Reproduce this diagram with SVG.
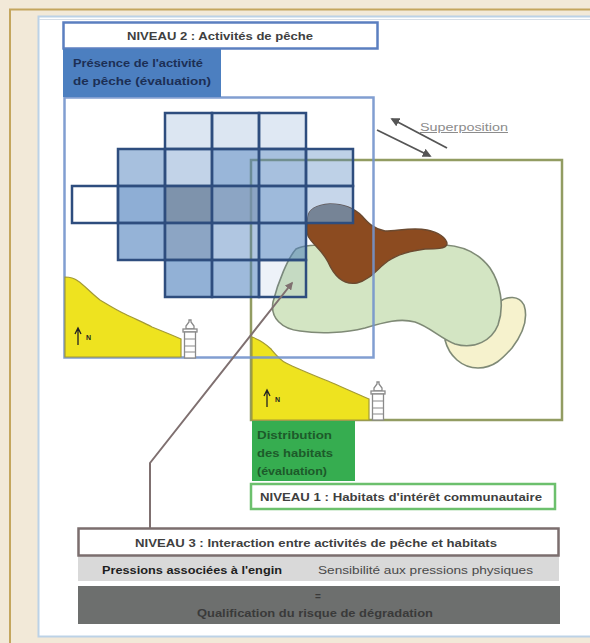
<svg xmlns="http://www.w3.org/2000/svg" width="590" height="643" viewBox="0 0 590 643">
  <defs>
    <style>
      .t { font-family: "Liberation Sans", Arial, sans-serif; font-weight: bold; font-size: 10px; fill: #3f3f3f; }
      .hdr { fill: #ffffff; stroke-width: 2.5; }
      .cell { fill: #4f81bd; stroke: #2e4d7e; stroke-width: 2.5; }
      .coast { fill: #eee31f; stroke: #a39a36; stroke-width: 1.2; }
      .blob { stroke: #7f8a76; stroke-width: 1.6; }
      .lh { fill: #ffffff; stroke: #8a8a8a; stroke-width: 1.3; }
    </style>
    <marker id="headGray" viewBox="0 0 10 10" refX="8" refY="5" markerWidth="4" markerHeight="4" orient="auto" markerUnits="strokeWidth">
      <path d="M0,0 L10,5 L0,10 Z" fill="#7f7070"/>
    </marker>
    <marker id="headDark" viewBox="0 0 10 10" refX="8" refY="5" markerWidth="5" markerHeight="5" orient="auto" markerUnits="strokeWidth">
      <path d="M0,0 L10,5 L0,10 Z" fill="#555555"/>
    </marker>
    <!-- brown habitat outline, reused for the part seen through the grid -->
    <path id="brownShape" d="M308,217 C309,208 318,205 330,204 C342,204 354,208 362,216 C368,223 374,229 385,231 C398,231 412,227 427,230 C438,232 447,238 447,244 C446,249 435,249 425,249 C410,251 398,254 388,261 C378,268 370,280 357,283 C345,285 335,278 328,262 C322,250 312,244 308,236 C306,230 307,223 308,217 Z"/>
    <clipPath id="cellClip">
      <rect x="306" y="186" width="47" height="37"/>
    </clipPath>
    <!-- small lighthouse, origin at base centre -->
    <g id="lighthouse">
      <path class="lh" d="M-1,-38 L1,-38 L1,-36 L4,-32 L4,-29 L-4,-29 L-4,-32 L-1,-36 Z"/>
      <rect class="lh" x="-7" y="-29" width="14" height="3"/>
      <rect class="lh" x="-5.5" y="-26" width="11" height="26"/>
      <path d="M-5.5,-19 H5.5 M-5.5,-12 H5.5 M-5.5,-6 H5.5" stroke="#8a8a8a" stroke-width="1.2"/>
    </g>
    <!-- north arrow -->
    <g id="north">
      <path d="M0,0 V-16 M-3,-11 L0,-17 L3,-11" fill="none" stroke="#222" stroke-width="1.3"/>
      <text x="8" y="-5" font-family="Liberation Sans, Arial, sans-serif" font-weight="bold" font-size="7" fill="#222">N</text>
    </g>
  </defs>

  <!-- page -->
  <rect x="0" y="0" width="590" height="643" fill="#f2e9d8"/>
  <path d="M10,643 V9.5 H590" fill="none" stroke="#c4a65e" stroke-width="2"/>
  <rect x="38.5" y="16.5" width="560" height="620" fill="#ffffff" stroke="#bcd2e6" stroke-width="2"/>
  <line x1="39" y1="19.5" x2="590" y2="19.5" stroke="#d6dde6" stroke-width="1"/>

  <!-- level 1: habitat map -->
  <g id="niveau1-map">
    <rect x="251" y="160" width="311" height="260" fill="#ffffff" stroke="#929c62" stroke-width="2.5"/>
    <path class="blob" fill="#f6f2cd" d="M445,340 C449,356 462,368 478,368 C494,368 503,358 512,348 C521,336 529,320 524,305 C519,295 507,296 499,302 L470,330 Z"/>
    <path class="blob" fill="#d3e5c3" d="M296,249 C288,258 278,282 273,302 C270,318 282,329 300,331 C320,334 345,333 365,328 C385,322 400,318 415,322 C430,327 440,338 455,344 C475,350 492,340 498,325 C505,305 500,283 490,268 C478,252 462,246 445,245 L330,245 C315,245 304,245 296,249 Z"/>
    <use href="#brownShape" fill="#8c4b20" stroke="#6b4a30" stroke-width="1.4"/>
    <use href="#brownShape" fill="#8a8683" clip-path="url(#cellClip)"/>
    <path class="coast" d="M252,337 C260,340 266,344 271,349 C276,355 280,360 286,363 C300,370 318,377 335,384 C348,390 360,395 369,399 L369,420 L252,420 Z"/>
    <use href="#north" x="267" y="407"/>
    <use href="#lighthouse" x="378" y="420"/>
  </g>

  <!-- level 2: fishing activity map -->
  <g id="niveau2-map">
    <rect x="64.5" y="97.5" width="309" height="260" fill="none" stroke="#7394cc" stroke-width="2.5" stroke-opacity="0.9"/>
    <!-- row 0 -->
    <rect class="cell" x="165" y="113" width="47" height="36" fill-opacity="0.2"/>
    <rect class="cell" x="212" y="113" width="47" height="36" fill-opacity="0.2"/>
    <rect class="cell" x="259" y="113" width="47" height="36" fill-opacity="0.18"/>
    <!-- row 1 -->
    <rect class="cell" x="118" y="149" width="47" height="37" fill-opacity="0.5"/>
    <rect class="cell" x="165" y="149" width="47" height="37" fill-opacity="0.35"/>
    <rect class="cell" x="212" y="149" width="47" height="37" fill-opacity="0.58"/>
    <rect class="cell" x="259" y="149" width="47" height="37" fill-opacity="0.5"/>
    <rect class="cell" x="306" y="149" width="47" height="37" fill-opacity="0.37"/>
    <!-- row 2 -->
    <rect class="cell" x="72" y="186" width="46" height="37" fill-opacity="0"/>
    <rect class="cell" x="118" y="186" width="47" height="37" fill-opacity="0.64"/>
    <rect class="cell" x="165" y="186" width="47" height="37" style="fill:#5e7897" fill-opacity="0.8"/>
    <rect class="cell" x="212" y="186" width="47" height="37" style="fill:#6f8fb5" fill-opacity="0.8"/>
    <rect class="cell" x="259" y="186" width="47" height="37" fill-opacity="0.55"/>
    <rect class="cell" x="306" y="186" width="47" height="37" fill-opacity="0.32"/>
    <!-- row 3 -->
    <rect class="cell" x="118" y="223" width="47" height="37" fill-opacity="0.6"/>
    <rect class="cell" x="165" y="223" width="47" height="37" style="fill:#6f8fb5" fill-opacity="0.8"/>
    <rect class="cell" x="212" y="223" width="47" height="37" fill-opacity="0.45"/>
    <rect class="cell" x="259" y="223" width="47" height="37" fill-opacity="0.55"/>
    <!-- row 4 -->
    <rect class="cell" x="165" y="260" width="47" height="37" fill-opacity="0.62"/>
    <rect class="cell" x="212" y="260" width="47" height="37" fill-opacity="0.55"/>
    <rect class="cell" x="259" y="260" width="47" height="37" fill-opacity="0.1"/>
    <path class="coast" d="M65,277 C70,277 74,278 78,281 C84,285 90,292 100,300 C110,306 118,311 125,314 C135,319 145,323 152,327 C162,331 172,335 181,339 L181,357 L65,357 Z"/>
    <use href="#north" x="78" y="345"/>
    <use href="#lighthouse" x="190" y="358"/>
  </g>

  <!-- level 2 labels -->
  <g id="niveau2-header">
    <rect class="hdr" x="63.5" y="22.5" width="314" height="26" stroke="#5b7fc0"/>
    <text class="t" x="127" y="39.5" textLength="186" lengthAdjust="spacingAndGlyphs">NIVEAU 2 : Activités de pêche</text>
  </g>
  <g id="niveau2-label">
    <rect x="63" y="49" width="158" height="48" fill="#4c7fc0"/>
    <text class="t" x="73" y="67" style="fill:#1c2f55" textLength="130" lengthAdjust="spacingAndGlyphs">Présence de l'activité</text>
    <text class="t" x="73" y="85" style="fill:#1c2f55" textLength="138" lengthAdjust="spacingAndGlyphs">de pêche (évaluation)</text>
  </g>

  <!-- level 1 labels -->
  <g id="niveau1-label">
    <rect x="252" y="421" width="103" height="60" fill="#36ad50"/>
    <text class="t" x="257" y="439" style="fill:#1d5a2a" textLength="75" lengthAdjust="spacingAndGlyphs">Distribution</text>
    <text class="t" x="257" y="457" style="fill:#1d5a2a" textLength="76" lengthAdjust="spacingAndGlyphs">des habitats</text>
    <text class="t" x="257" y="475" style="fill:#1d5a2a" textLength="70" lengthAdjust="spacingAndGlyphs">(évaluation)</text>
  </g>
  <g id="niveau1-header">
    <rect class="hdr" x="251" y="484" width="304" height="25" stroke="#6cc06d"/>
    <text class="t" x="260" y="500.5" textLength="282" lengthAdjust="spacingAndGlyphs">NIVEAU 1 : Habitats d'intérêt communautaire</text>
  </g>

  <!-- level 3 -->
  <g id="niveau3">
    <rect x="78" y="556" width="481" height="25" fill="#d9d9d9"/>
    <rect x="78" y="586" width="482" height="38" fill="#6d6f6e"/>
    <rect class="hdr" x="78.5" y="528.5" width="480" height="27" stroke="#7b6e6e"/>
    <text class="t" x="135" y="547" textLength="362" lengthAdjust="spacingAndGlyphs">NIVEAU 3 : Interaction entre activités de pêche et habitats</text>
    <text class="t" x="102" y="574" style="fill:#1e1e1e" textLength="180" lengthAdjust="spacingAndGlyphs">Pressions associées à l'engin</text>
    <text class="t" x="318" y="574" style="fill:#4a4a4a;font-weight:normal" textLength="215" lengthAdjust="spacingAndGlyphs">Sensibilité aux pressions physiques</text>
    <text class="t" x="318" y="600" style="fill:#3a3a3a" text-anchor="middle">=</text>
    <text class="t" x="197" y="617" style="fill:#3a3a3a" textLength="236" lengthAdjust="spacingAndGlyphs">Qualification du risque de dégradation</text>
  </g>

  <!-- superposition -->
  <g id="superposition">
    <text x="420" y="131" font-family="Liberation Sans, Arial, sans-serif" font-size="10" fill="#8c8c8c" text-decoration="underline" textLength="88" lengthAdjust="spacingAndGlyphs">Superposition</text>
  </g>

  <!-- connectors -->
  <g id="connectors" fill="none">
    <path d="M377,130 L430,156" stroke="#555555" stroke-width="1.8" marker-end="url(#headDark)"/>
    <path d="M447,148 L392,119" stroke="#555555" stroke-width="1.8" marker-end="url(#headDark)"/>
    <path d="M150,528 V463 L292,283" stroke="#7f7070" stroke-width="2" marker-end="url(#headGray)"/>
  </g>
</svg>
